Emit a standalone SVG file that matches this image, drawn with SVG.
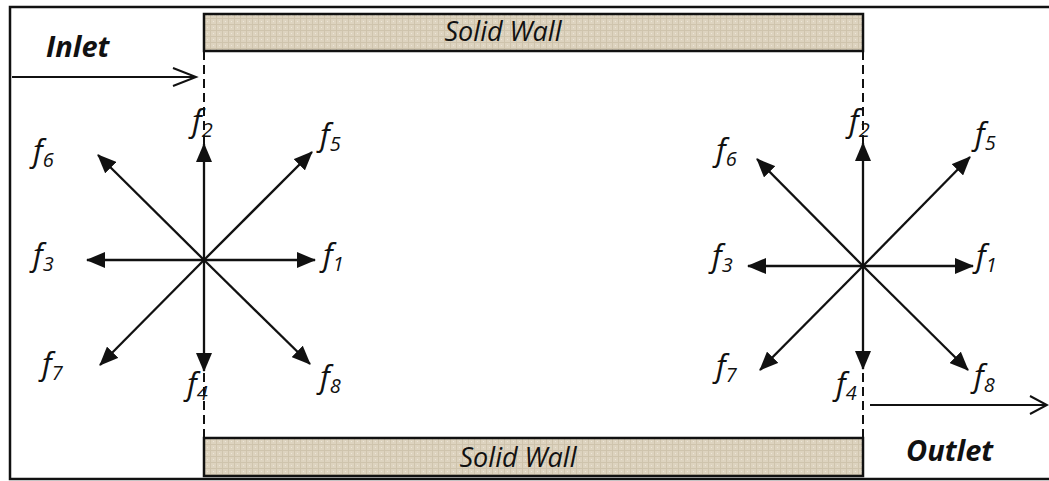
<svg xmlns="http://www.w3.org/2000/svg" width="1049" height="481" viewBox="0 0 1049 481">
<style>
.lbl{font-family:"Open Sans","Liberation Sans",sans-serif;font-style:italic;font-size:31px;fill:#111}
.sub{font-size:20px}
.title{font-family:"Open Sans","Liberation Sans",sans-serif;font-style:italic;font-weight:bold;font-size:29px;fill:#111}
.wallt{font-family:"Open Sans","Liberation Sans",sans-serif;font-style:italic;font-size:27px;fill:#111}
.arr{stroke:#111;stroke-width:2.3;fill:none;marker-end:url(#ah)}
.dash{stroke:#111;stroke-width:2;stroke-dasharray:9 5;fill:none}
.wall{fill:url(#tex);stroke:#111;stroke-width:2.5}
.open{stroke:#111;stroke-width:2;fill:none}
</style>
<defs>
<marker id="ah" markerUnits="userSpaceOnUse" markerWidth="20" markerHeight="16" refX="18" refY="8" orient="auto">
<path d="M0,0 L19,8 L0,16 Z" fill="#111"/>
</marker>
<pattern id="tex" patternUnits="userSpaceOnUse" width="6" height="6">
<rect width="6" height="6" fill="#ddd3bf"/>
<path d="M0,0.5H6M0.5,0V6" stroke="#cfc4ad" stroke-width="1"/>
<rect x="3" y="3" width="1" height="1" fill="#ece6d8"/>
</pattern>
</defs>
<rect x="0" y="0" width="1049" height="481" fill="#fff"/>
<g id="frame">
<path d="M1049,7 H10 V479 H1049" stroke="#111" stroke-width="2.5" fill="none"/>
</g>
<g id="top-wall">
<rect class="wall" x="204" y="14" width="659" height="37"/>
<text class="wallt" x="503" y="41" text-anchor="middle">Solid Wall</text>
</g>
<g id="bottom-wall">
<rect class="wall" x="204" y="438" width="659" height="38"/>
<text class="wallt" x="518" y="467" text-anchor="middle">Solid Wall</text>
</g>
<g id="inlet">
<text class="title" x="46" y="57">Inlet</text>
</g>
<g id="outlet">
<text class="title" x="906" y="461">Outlet</text>
</g>
<g id="connectors">
<line class="dash" x1="204" y1="51" x2="204" y2="438"/>
<line class="dash" x1="863" y1="51" x2="863" y2="438"/>
<path class="open" d="M12,77 H196 M173,68 L196,77 L173,86"/>
<path class="open" d="M870,405 H1047 M1030,396 L1047,405 L1030,414"/>
<line class="arr" x1="204" y1="260" x2="315" y2="260"/>
<line class="arr" x1="204" y1="260" x2="204" y2="144"/>
<line class="arr" x1="204" y1="260" x2="87" y2="260"/>
<line class="arr" x1="204" y1="260" x2="204" y2="371"/>
<line class="arr" x1="204" y1="260" x2="312" y2="152"/>
<line class="arr" x1="204" y1="260" x2="98" y2="155"/>
<line class="arr" x1="204" y1="260" x2="100" y2="365"/>
<line class="arr" x1="204" y1="260" x2="310" y2="364"/>
<line class="arr" x1="863" y1="266" x2="973" y2="266"/>
<line class="arr" x1="863" y1="266" x2="863" y2="143"/>
<line class="arr" x1="863" y1="266" x2="748" y2="266"/>
<line class="arr" x1="863" y1="266" x2="863" y2="369"/>
<line class="arr" x1="863" y1="266" x2="970" y2="157"/>
<line class="arr" x1="863" y1="266" x2="757" y2="159"/>
<line class="arr" x1="863" y1="266" x2="760" y2="370"/>
<line class="arr" x1="863" y1="266" x2="968" y2="370"/>
</g>
<g id="left-labels">
<text class="lbl" x="33" y="162">f<tspan class="sub" dy="5">6</tspan></text>
<text class="lbl" x="192" y="132">f<tspan class="sub" dy="5">2</tspan></text>
<text class="lbl" x="320" y="146">f<tspan class="sub" dy="5">5</tspan></text>
<text class="lbl" x="33" y="266">f<tspan class="sub" dy="5">3</tspan></text>
<text class="lbl" x="323" y="266">f<tspan class="sub" dy="5">1</tspan></text>
<text class="lbl" x="42" y="375">f<tspan class="sub" dy="5">7</tspan></text>
<text class="lbl" x="187" y="395">f<tspan class="sub" dy="5">4</tspan></text>
<text class="lbl" x="320" y="388">f<tspan class="sub" dy="5">8</tspan></text>
</g>
<g id="right-labels">
<text class="lbl" x="716" y="161">f<tspan class="sub" dy="5">6</tspan></text>
<text class="lbl" x="849" y="132">f<tspan class="sub" dy="5">2</tspan></text>
<text class="lbl" x="975" y="145">f<tspan class="sub" dy="5">5</tspan></text>
<text class="lbl" x="712" y="267">f<tspan class="sub" dy="5">3</tspan></text>
<text class="lbl" x="976" y="267">f<tspan class="sub" dy="5">1</tspan></text>
<text class="lbl" x="716" y="377">f<tspan class="sub" dy="5">7</tspan></text>
<text class="lbl" x="836" y="395">f<tspan class="sub" dy="5">4</tspan></text>
<text class="lbl" x="974" y="387">f<tspan class="sub" dy="5">8</tspan></text>
</g>
</svg>
